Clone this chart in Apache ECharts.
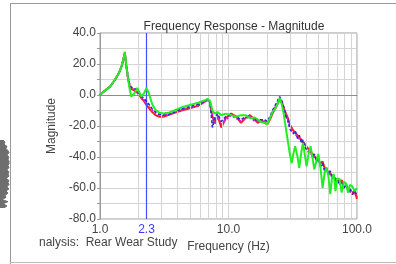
<!DOCTYPE html>
<html>
<head>
<meta charset="utf-8">
<script src="https://cdn.jsdelivr.net/npm/echarts@6/dist/echarts.min.js"></script>
<style>
  html, body { margin: 0; padding: 0; background: #fff; }
  #chart { width: 396px; height: 264px; }
</style>
</head>
<body>
<div id="chart"></div>
<script>
// frequency points (Hz), shared by all four traces
var freqHz = [1.0,1.1,1.2,1.3,1.4,1.48,1.53,1.56,1.6,1.65,1.7,1.75,1.85,1.95,2.02,2.1,2.2,2.3,2.4,2.55,
  2.7,2.9,3.1,3.4,3.8,4.3,5,5.8,6.5,6.9,7.2,7.5,7.8,8.2,8.8,9.5,10.5,11.5,12.5,13.5,
  14.7,16,17,18,19.2,20,21,22,23,24,25,26,27,28,29,30,31,32,33,34.5,
  35.5,37,38,39.5,40.5,42,43.5,45,46.5,48.5,50,52,54,56,58,60,62,64,66,68,
  70,73,76,79,82,85,88,92,96,100];

var redDb = [0,3,5.5,9.5,14,19,24,27,19,11,6,4,3,1.5,0,-2,-4,-6.5,-8.5,-11,
  -13,-14,-14,-13,-11.5,-10,-8.5,-7,-4.5,-3,-6,-14,-18,-13,-21,-15,-12,-14,-18,-15,
  -13,-16,-18,-16,-18,-19,-16,-12,-9,-6,-3,-4,-9,-12,-15,-19,-20,-23,-22,-26,
  -25,-29,-28,-32,-31,-35,-34,-38,-37,-41,-40,-44,-43,-47,-46,-49,-48,-52,-51,-54,
  -53,-56,-55,-58,-57,-61,-60,-63,-62,-67];

var magentaDb = [0,3,5.5,9.5,14,19,24,27,19,11,6,4.5,3.5,2,0.5,-1.5,-3.5,-5.5,-7.5,-10,
  -12,-13,-13.5,-12.5,-11,-9.5,-8,-6.5,-4,-3,-5,-13,-19,-14,-19,-16,-13,-15,-17,-15,
  -14,-17,-17,-16,-17,-18,-15,-11,-8,-5,-2,-5,-10,-13,-17,-20,-22,-24,-23,-27,
  -27,-30,-29,-33,-32,-36,-35,-39,-38,-42,-41,-45,-45,-48,-47,-50,-50,-53,-52,-55,
  -55,-57,-56,-59,-58,-61,-61,-64,-63,-66];

var blueDb = [0,3,5.5,9.5,14,19,24,27.5,20,12,7,5,4.5,2.5,1,-0.5,-2.5,-4,-6,-9,
  -11,-12.5,-13,-12.5,-11,-9,-7.5,-6,-4,-2.5,-5,-21,-15,-12,-17,-14,-13,-14,-16,-14,
  -14,-16,-16,-16,-16,-17,-14,-10,-7,-4,-1,-4,-8,-14,-16,-22,-21,-25,-23,-28,
  -26,-31,-29,-34,-33,-37,-35,-40,-38,-43,-41,-46,-44,-49,-47,-51,-49,-54,-52,-56,
  -54,-58,-56,-60,-58,-62,-60,-64,-62,-65];

var greenDb = [0,3,5.5,9.5,14,19,24,28,20,11,4,-1,1,4.5,5,-1,1,4.5,1,-6,
  -9.5,-11.5,-12,-11.5,-10,-8,-6.5,-5,-3.5,-2.5,-4,-10,-12,-11,-13,-12,-13,-14,-13,-13,
  -15,-14.5,-16,-17.5,-18,-19,-15,-11,-9,-6,-2,-6,-13,-22,-30,-38,-44,-38,-33,-40,
  -47,-36,-31,-40,-46,-38,-33,-40,-48,-42,-38,-47,-60,-50,-47,-53,-64,-53,-51,-62,
  -54,-54,-63,-56,-57,-63,-58,-59,-62,-60];

var cursorHz = 2.3;
var minorGridHz = [2,3,4,5,6,7,8,9,20,30,40,50,60,70,80,90];

// strip of the neighbouring time trace, cut off at the left edge
var waveAmp = [4,7,3,8,2,6,5,8,6,9,7,9,8,9,6,9,8,9,7,9,8,9,9,8,9,7,9,8,6,7,4,5,3];

function pairs(ys) {
  return freqHz.map(function (f, i) { return [f, ys[i]]; });
}

var labelFont = 'Liberation Sans, Arial, sans-serif';

var option = {
  animation: false,
  title: {
    text: 'Frequency Response - Magnitude',
    left: 229,
    textAlign: 'center',
    top: 16,
    textStyle: { fontFamily: labelFont, fontSize: 12, fontWeight: 'normal', color: '#333' }
  },
  grid: [
    { left: 100, right: 39, top: 33, bottom: 45, show: true, borderColor: '#9a9a9a', borderWidth: 1 },
    { left: 0, top: 140, width: 9, height: 68 }
  ],
  xAxis: [
    {
      type: 'log', logBase: 10, min: 1, max: 100, gridIndex: 0,
      name: 'Frequency (Hz)', nameLocation: 'middle', nameGap: 16,
      nameTextStyle: { fontFamily: labelFont, fontSize: 12, color: '#444' },
      axisLine: { lineStyle: { color: '#9a9a9a' } },
      axisTick: { show: false },
      axisLabel: { fontFamily: labelFont, fontSize: 12, color: '#444', margin: 5,
        formatter: function (v) { return v.toFixed(1); } },
      splitLine: { show: true, lineStyle: { color: '#d4d4d4' } }
    },
    { type: 'value', gridIndex: 1, min: 0, max: 9, show: false }
  ],
  yAxis: [
    {
      type: 'value', min: -80, max: 40, interval: 10, gridIndex: 0,
      name: 'Magnitude', nameLocation: 'middle', nameGap: 42, nameRotate: 90,
      nameTextStyle: { fontFamily: labelFont, fontSize: 12, color: '#444' },
      axisLine: { show: true, lineStyle: { color: '#9a9a9a' } },
      axisTick: { show: true, length: 3, lineStyle: { color: '#9a9a9a' } },
      axisLabel: { fontFamily: labelFont, fontSize: 12, color: '#444', margin: 4,
        formatter: function (v) { return v % 20 === 0 ? v.toFixed(1) : ''; } },
      splitLine: { show: true, lineStyle: { color: '#d4d4d4' } }
    },
    { type: 'category', gridIndex: 1, show: false, boundaryGap: false,
      data: waveAmp.map(function (v, i) { return i; }) }
  ],
  graphic: [
    { type: 'line', shape: { x1: 10, y1: 3.5, x2: 396, y2: 3.5 }, style: { stroke: '#999', lineWidth: 1 } },
    { type: 'line', shape: { x1: 10.5, y1: 3, x2: 10.5, y2: 264 }, style: { stroke: '#999', lineWidth: 1 } },
    { type: 'line', shape: { x1: 10, y1: 262.5, x2: 396, y2: 262.5 }, style: { stroke: '#bbb', lineWidth: 1 } },
    { type: 'text', left: 39, top: 237,
      style: { text: 'nalysis:  Rear Wear Study', fontFamily: labelFont, fontSize: 12, fill: '#444' } }
  ],
  series: [
    {
      name: 'grid', type: 'line', data: [], xAxisIndex: 0, yAxisIndex: 0, z: 1, silent: true,
      markLine: {
        silent: true, symbol: 'none', animation: false,
        label: { show: false },
        lineStyle: { color: '#d4d4d4', type: 'solid', width: 1 },
        data: minorGridHz.map(function (f) { return { xAxis: f }; })
          .concat([{ yAxis: 0, lineStyle: { color: '#8c8c8c', width: 1, type: 'solid' } }])
      }
    },
    {
      name: 'cursor', type: 'line', data: [], xAxisIndex: 0, yAxisIndex: 0, z: 2, silent: true,
      markLine: {
        silent: true, symbol: 'none', animation: false,
        lineStyle: { color: '#4a4aff', type: 'solid', width: 1.2 },
        label: { show: true, position: 'start', distance: 5, formatter: String(cursorHz),
          fontFamily: labelFont, fontSize: 12, color: '#3a3aff' },
        data: [{ xAxis: cursorHz }]
      }
    },
    { name: 'r', type: 'line', data: pairs(redDb), showSymbol: false, z: 3,
      lineStyle: { color: '#ff1a1a', width: 2 } },
    { name: 'm', type: 'line', data: pairs(magentaDb), showSymbol: false, z: 4,
      lineStyle: { color: '#e020e0', width: 2, type: 'dotted' } },
    { name: 'b', type: 'line', data: pairs(blueDb), showSymbol: false, z: 5,
      lineStyle: { color: '#2a2ad0', width: 1.6, type: [3, 2] } },
    { name: 'g', type: 'line', data: pairs(greenDb), showSymbol: false, z: 6,
      lineStyle: { color: '#22ee22', width: 2 } },
    { name: 'wave', type: 'line', xAxisIndex: 1, yAxisIndex: 1, data: waveAmp,
      showSymbol: false, silent: true,
      lineStyle: { color: '#6e6e6e', width: 1 },
      areaStyle: { color: '#6e6e6e', opacity: 1 } }
  ]
};

var chart = echarts.init(document.getElementById('chart'));
chart.setOption(option);
window.onresize = chart.resize;
</script>
</body>
</html>
